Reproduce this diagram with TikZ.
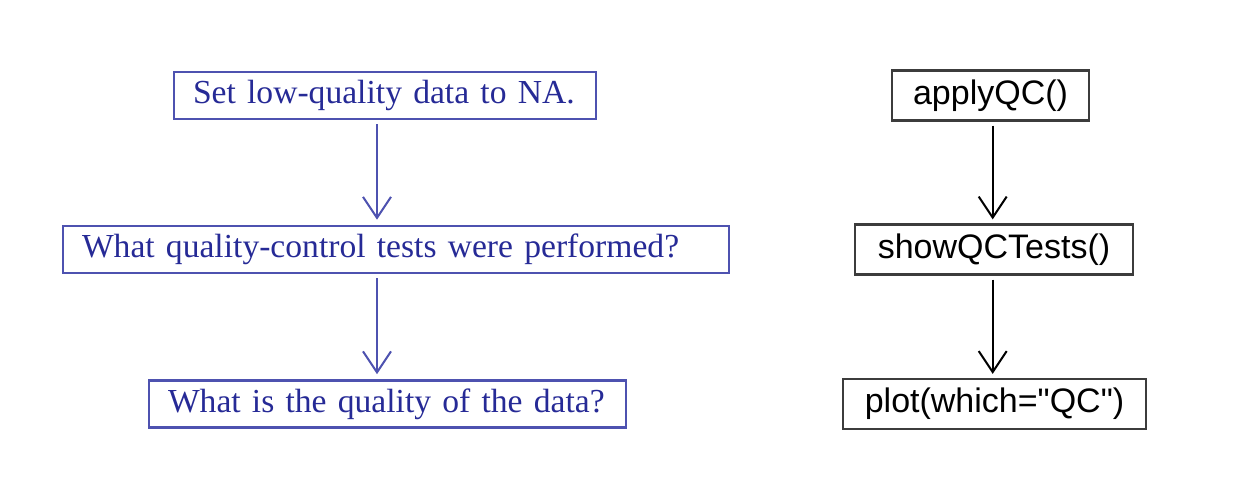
\documentclass[tikz,border=0pt]{standalone}
\usepackage{fontspec}
\setmainfont{Liberation Serif}
\newfontfamily\funcfont{Liberation Sans}
\usetikzlibrary{arrows.meta}
\definecolor{qcblue}{RGB}{78,82,176}
\definecolor{qctext}{RGB}{38,42,150}
\definecolor{qcgray}{RGB}{60,60,60}

\begin{document}
\begin{tikzpicture}[
    x=1pt, y=1pt,
    question/.style={draw=qcblue, line width=2.6pt, text=qctext, inner xsep=19pt, inner ysep=0pt,
        align=left, minimum height=47pt, font=\fontsize{33.6}{40}\selectfont},
    func/.style={draw=qcgray, line width=2.2pt, inner sep=0pt, minimum height=50pt,
        font=\funcfont\fontsize{34}{40}\selectfont},
    qlink/.style={draw=qcblue, line width=2pt, -{Straight Barb[length=21pt,width=28pt]},
        shorten <=4pt, shorten >=5pt},
    flink/.style={draw=black, line width=2pt, -{Straight Barb[length=21pt,width=28pt]},
        shorten <=4pt, shorten >=4pt}
]
    \useasboundingbox (0,0) rectangle (1250,500);

    % Questions
    \node[question, text width=384pt] (setna) at (385,404.5) {Set low-quality data to NA.};
    \node[question, text width=628pt] (tests) at (396,250.5) {What quality-control tests were performed?};
    \node[question, text width=439pt] (quality) at (387.5,96) {What is the quality of the data?};

    % Functions
    \node[func, minimum width=197pt] (apply) at (990.5,404.5) {applyQC()};
    \node[func, minimum width=278pt] (show) at (994,250.5) {showQCTests()};
    \node[func, minimum width=303pt] (plot) at (994.5,96) {plot(which="QC")};

    % Arrow columns
    \coordinate (lx) at (377,0);
    \coordinate (rx) at (992.7,0);

    % Links
    \draw[qlink] (setna.south -| lx) -- (tests.north -| lx);
    \draw[qlink] (tests.south -| lx) -- (quality.north -| lx);
    \draw[flink] (apply.south -| rx) -- (show.north -| rx);
    \draw[flink] (show.south -| rx) -- (plot.north -| rx);
\end{tikzpicture}
\end{document}
